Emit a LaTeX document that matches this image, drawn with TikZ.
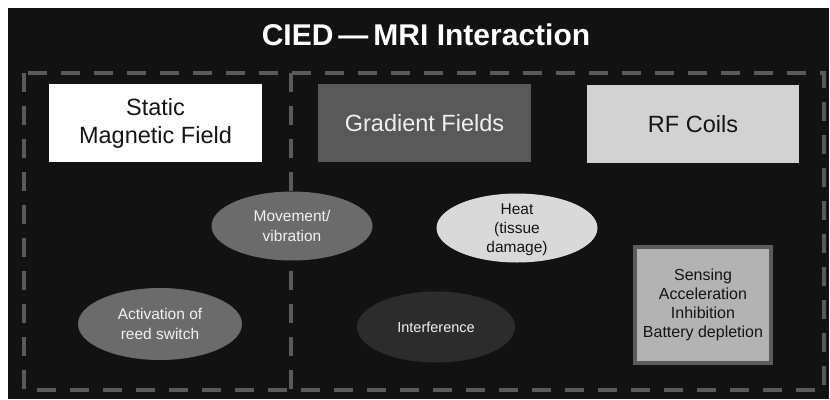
\documentclass[tikz,border=0pt]{standalone}
\usepackage{fontspec}
\setmainfont{Liberation Sans}
\usetikzlibrary{shapes.geometric}
\definecolor{bg}{HTML}{121212}
\definecolor{dashgray}{HTML}{5A5A5A}
\definecolor{gradfill}{HTML}{585858}
\definecolor{rffill}{HTML}{D2D2D2}
\definecolor{midell}{HTML}{6B6B6B}
\definecolor{heatfill}{HTML}{D9D9D9}
\definecolor{intfill}{HTML}{2C2C2C}
\definecolor{sensfill}{HTML}{B3B3B3}
\definecolor{sensborder}{HTML}{5C5C5C}
\definecolor{lighttext}{HTML}{F0F0F0}
\definecolor{darktext}{HTML}{151515}
\tikzset{
  titletext/.style={text=white, font=\bfseries\fontsize{30}{36}\selectfont, inner sep=0pt},
  dashline/.style={draw=dashgray, line width=4pt, dash pattern=on 19pt off 14pt},
  topbox/.style={rectangle, minimum width=213pt, minimum height=78pt, inner sep=0pt, align=center,
    font=\fontsize{23.5}{28}\selectfont},
  ell/.style={ellipse, minimum width=161pt, minimum height=69pt, inner sep=0pt},
  elltext/.style={align=center, inner sep=0pt, font=\fontsize{15.5}{20}\selectfont},
  sensbox/.style={rectangle, fill=sensfill, draw=sensborder, line width=4pt,
    minimum width=136pt, minimum height=116pt, inner sep=0pt, align=center,
    font=\fontsize{16}{19}\selectfont, text=darktext}
}
\begin{document}
\begin{tikzpicture}[x=1pt,y=-1pt]
\useasboundingbox (0,0) rectangle (830,399);
\fill[white] (0,0) rectangle (830,399);
\fill[bg] (8,8) rectangle (829,399);
\node[titletext] (title) at (426,35) {CIED\,—\,MRI Interaction};
\draw[dashline] (24,73) rectangle (824,390);
\coordinate (divtop) at (291,73);
\coordinate (divbot) at (291,390);
\draw[dashline] (divtop) -- (divbot);
\node[topbox, fill=white, text=darktext] (static) at (155.5,123) {Static\\Magnetic Field};
\node[topbox, fill=gradfill, text=lighttext] (gradient) at (424.5,123) {Gradient Fields};
\node[topbox, fill=rffill, text=darktext, minimum width=212pt] (rf) at (693,124) {RF Coils};
\node[ell, fill=midell] (move) at (292,226) {};
\node[elltext, text=lighttext] (movelabel) at (move) {Movement/\\vibration};
\node[ell, fill=heatfill] (heat) at (517,228) {};
\node[elltext, text=darktext, font=\fontsize{15.5}{19}\selectfont] (heatlabel) at (517,230) {Heat\\(tissue\\damage)};
\node[ell, fill=midell, minimum width=164pt, minimum height=72pt] (reed) at (160,324) {};
\node[elltext, text=lighttext] (reedlabel) at (reed) {Activation of\\reed switch};
\node[ell, fill=intfill, minimum width=158pt, minimum height=71pt] (interf) at (436,327) {};
\node[elltext, text=lighttext, font=\fontsize{14.5}{18}\selectfont] (interflabel) at (interf) {Interference};
\node[sensbox] (sens) at (703,305) {Sensing\\Acceleration\\Inhibition\\Battery depletion};
\end{tikzpicture}
\end{document}
